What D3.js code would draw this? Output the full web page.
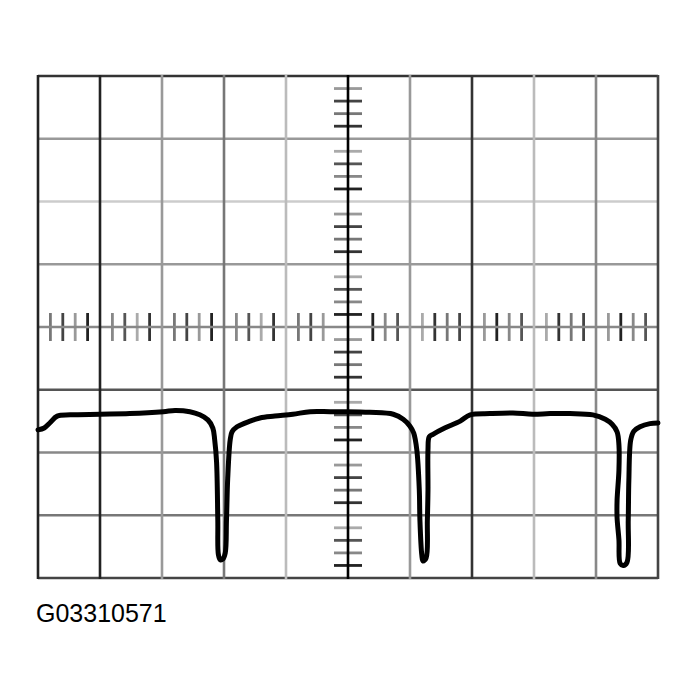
<!DOCTYPE html>
<html>
<head>
<meta charset="utf-8">
<script src="https://cdn.jsdelivr.net/npm/d3@7"></script>
<style>
  html, body { margin: 0; padding: 0; background: #fff; }
  svg { display: block; }
</style>
</head>
<body>
<div id="scope"></div>
<script>
(function () {
  "use strict";

  // screen is 10 x 8 divisions, origin in the middle
  const DIV_X = 10;
  const DIV_Y = 8;

  // trace in division units
  const traceT = [
    0.00, 0.10, 0.19, 0.31, 0.52, 1.00, 1.48, 2.02, 2.21, 2.45,
    2.61, 2.74, 2.82, 2.85, 2.88, 2.90, 2.91, 2.94, 2.98, 3.02,
    3.04, 3.06, 3.10, 3.13, 3.21, 3.42, 3.58, 3.82, 4.11, 4.39,
    4.71, 4.98, 5.35, 5.73, 5.89, 6.00, 6.06, 6.11, 6.15, 6.16,
    6.19, 6.21, 6.26, 6.28, 6.29, 6.29, 6.31, 6.37, 6.56, 6.81,
    6.97, 7.29, 7.66, 7.98, 8.26, 8.58, 8.95, 9.15, 9.26, 9.34,
    9.37, 9.37, 9.34, 9.34, 9.37, 9.39, 9.44, 9.50, 9.52, 9.53,
    9.56, 9.61, 9.71, 9.87, 10.00
  ];
  const traceV = [
    -1.64, -1.61, -1.53, -1.42, -1.40, -1.39, -1.38, -1.35, -1.33, -1.35,
    -1.40, -1.48, -1.61, -1.80, -2.15, -3.08, -3.63, -3.71, -3.70, -3.60,
    -3.08, -2.41, -1.80, -1.67, -1.59, -1.50, -1.45, -1.42, -1.39, -1.35,
    -1.35, -1.35, -1.36, -1.39, -1.47, -1.58, -1.69, -1.96, -2.60, -3.08,
    -3.63, -3.73, -3.68, -3.08, -2.60, -1.96, -1.75, -1.71, -1.61, -1.50,
    -1.40, -1.38, -1.37, -1.39, -1.38, -1.38, -1.40, -1.47, -1.55, -1.67,
    -1.88, -2.28, -2.76, -3.04, -3.39, -3.77, -3.80, -3.75, -3.08, -2.44,
    -1.80, -1.66, -1.59, -1.54, -1.53
  ];

  const figureLabel = "G03310571";

  // layout
  const width = 698;
  const height = 699;
  const left = 38, right = 658, top = 76, bottom = 578;

  // the scan has grid lines in uneven greys
  const vLineColors = ["#222", "#222", "#999", "#777", "#bbb", "#000", "#999", "#333", "#bbb", "#888", "#444"];
  const hLineColors = ["#333", "#999", "#ccc", "#999", "#888", "#555", "#888", "#777", "#444"];
  const tickColors = ["#777", "#444", "#999", "#222", "#888", "#555", "#aaa", "#333"];

  const x = d3.scaleLinear().domain([0, DIV_X]).range([left, right]);
  const y = d3.scaleLinear().domain([-DIV_Y / 2, DIV_Y / 2]).range([bottom, top]);

  const svg = d3.select("#scope")
    .append("svg")
    .attr("width", width)
    .attr("height", height);

  svg.append("rect")
    .attr("width", width)
    .attr("height", height)
    .attr("fill", "#fff");

  // minor ticks on the centre axes, 5 per division
  const minor = d3.range(0, DIV_X * 5 + 1)
    .map((i) => i / 5)
    .filter((d) => Math.round(d * 5) % 5 !== 0);
  const minorY = d3.range(0, DIV_Y * 5 + 1)
    .map((i) => i / 5 - DIV_Y / 2)
    .filter((d) => Math.round(d * 5) % 5 !== 0);

  // vertical ticks along the horizontal axis (the two next to the centre are missing)
  svg.append("g")
    .selectAll("line")
    .data(minor.filter((d) => Math.abs(d - DIV_X / 2) > 0.3))
    .join("line")
    .attr("x1", (d) => x(d))
    .attr("x2", (d) => x(d))
    .attr("y1", y(0) - 14)
    .attr("y2", y(0) + 14)
    .attr("stroke", (d, i) => tickColors[i % tickColors.length])
    .attr("stroke-width", 2.8);

  // horizontal ticks along the vertical axis
  svg.append("g")
    .selectAll("line")
    .data(minorY)
    .join("line")
    .attr("x1", x(DIV_X / 2) - 14)
    .attr("x2", x(DIV_X / 2) + 14)
    .attr("y1", (d) => y(d))
    .attr("y2", (d) => y(d))
    .attr("stroke", (d, i) => tickColors[(i + 3) % tickColors.length])
    .attr("stroke-width", 2.8);

  // grid
  svg.append("g")
    .selectAll("line")
    .data(d3.range(0, DIV_Y + 1))
    .join("line")
    .attr("x1", left)
    .attr("x2", right)
    .attr("y1", (d) => y(DIV_Y / 2 - d))
    .attr("y2", (d) => y(DIV_Y / 2 - d))
    .attr("stroke", (d) => hLineColors[d])
    .attr("stroke-width", 2.6);

  svg.append("g")
    .selectAll("line")
    .data(d3.range(0, DIV_X + 1))
    .join("line")
    .attr("x1", (d) => x(d))
    .attr("x2", (d) => x(d))
    .attr("y1", top - 1)
    .attr("y2", bottom + 1)
    .attr("stroke", (d) => vLineColors[d])
    .attr("stroke-width", 2.6);

  // the trace
  const points = traceT.map((t, i) => [t, traceV[i]]);
  svg.append("path")
    .datum(points)
    .attr("fill", "none")
    .attr("stroke", "#000")
    .attr("stroke-width", 5)
    .attr("stroke-linejoin", "round")
    .attr("stroke-linecap", "round")
    .attr("d", d3.line()
      .x((d) => x(d[0]))
      .y((d) => y(d[1]))
      .curve(d3.curveCatmullRom.alpha(0.5)));

  // figure id under the screen
  svg.append("text")
    .attr("x", 36)
    .attr("y", 622)
    .attr("font-family", "Liberation Sans, Arial, sans-serif")
    .attr("font-size", 25)
    .attr("fill", "#000")
    .text(figureLabel);
})();
</script>
</body>
</html>
